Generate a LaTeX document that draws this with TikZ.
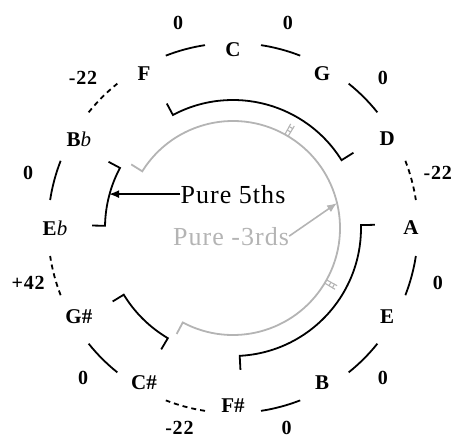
\documentclass[tikz,border=0pt]{standalone}
\usepackage{fontspec}
\setmainfont{Liberation Serif}
\newfontfamily\boldlab[LetterSpace=4]{Liberation Serif Bold}
\newfontfamily\widetext[LetterSpace=4]{Liberation Serif}
\usetikzlibrary{arrows.meta}
\definecolor{pgray}{RGB}{180,180,180}
\begin{document}
\begin{tikzpicture}[x=1pt,y=-1pt,
  note/.style={font=\bfseries\fontsize{21}{21}\selectfont, inner sep=0pt},
  lab/.style={font=\boldlab\fontsize{20}{20}\selectfont, inner sep=0pt},
  outerarc/.style={line width=1.8pt, black},
  dasharc/.style={line width=1.8pt, black, dash pattern=on 5pt off 4pt},
  fifth/.style={line width=1.8pt, black},
  third/.style={line width=1.8pt, pgray},
  rung/.style={line width=1.1pt, pgray},
  bigtext/.style={font=\widetext\fontsize{26}{26}\selectfont, inner sep=0pt, anchor=base}
]
\useasboundingbox (0,0) rectangle (458,442);
\begin{scope}[shift={(233,228)}]
  % notes around the circle (angle measured clockwise from top)
  \node[note] (nC)  at (-90:178)  {C};
  \node[note] (nG)  at (-60:178)  {G};
  \node[note] (nD)  at (-30:178)  {D};
  \node[note] (nA)  at (0:178)    {A};
  \node[note] (nE)  at (30:178)   {E};
  \node[note] (nB)  at (60:178)   {B};
  \node[note] (nFs) at (90:178)   {F\#};
  \node[note] (nCs) at (120:178)  {C\#};
  \node[note] (nGs) at (150:178)  {G\#};
  \node[note] (nEb) at (180:178)  {E\textnormal{\itshape b}};
  \node[note] (nBb) at (210:178)  {B\textnormal{\itshape b}};
  \node[note] (nF)  at (240:178)  {F};
  % outer arcs between notes
  \foreach \m/\s in {-105/outerarc,-75/outerarc,-45/outerarc,-15/dasharc,15/outerarc,45/outerarc,
                     75/outerarc,105/dasharc,135/outerarc,165/dasharc,195/outerarc,225/dasharc}{
    \draw[\s] ({\m-6.3}:185) arc[start angle={\m-6.3}, end angle={\m+6.3}, radius=185];
  }
  % deviation labels
  \node[lab] (lFC)  at (-105:212) {0};
  \node[lab] (lCG)  at (-75:212)  {0};
  \node[lab] (lGD)  at (-45:212)  {0};
  \node[lab] (lDA)  at (-15:212)  {-22};
  \node[lab] (lAE)  at (15:212)   {0};
  \node[lab] (lEB)  at (45:212)   {0};
  \node[lab] (lBF)  at (75:207)   {0};
  \node[lab] (lFC2) at (105:207)  {-22};
  \node[lab] (lCG2) at (135:212)  {0};
  \node[lab] (lGE)  at (165:212)  {+42};
  \node[lab] (lEB2) at (195:212)  {0};
  \node[lab] (lBF2) at (225:212)  {-22};
  % pure fifths brackets
  \draw[fifth] (-118:141) -- (-118:128) arc[start angle=-118, end angle=-32, radius=128] -- (-32:142);
  \draw[fifth] (-1.3:142) -- (-1.3:128) arc[start angle=-1.3, end angle=87, radius=128] -- (87:142);
  \draw[fifth] (120.6:141) -- (120.6:128) arc[start angle=120.6, end angle=148.6, radius=128] -- (148.6:141);
  \draw[fifth] (181:141) -- (181:128) arc[start angle=181, end angle=208, radius=128] -- (208:141);
  \coordinate (b5) at (194.5:128);
  % pure thirds arc
  \draw[third] (212:120) -- (212:107) arc[start angle=212, end angle=478, radius=107] -- (478:120);
  \coordinate (g3) at (-13.5:107);
  \foreach \t in {-60,30}{
    \draw[rung] ({\t-1}:107) -- ({\t-1}:119);
    \draw[rung] ({\t+1}:107) -- ({\t+1}:119);
    \draw[rung] ({\t-1.2}:112) -- ({\t+1.2}:112);
    \draw[rung] ({\t-1.2}:116) -- ({\t+1.2}:116);
  }
\end{scope}
\node[bigtext] (t5) at (233,203) {Pure 5ths};
\node[bigtext, text=pgray] (t3) at (231,245) {Pure -3rds};
\draw[line width=1.6pt, -{Latex[length=10pt,width=8pt]}] (t5.west) -- (t5.west -| b5);
\draw[line width=1.6pt, pgray, -{Latex[length=10pt,width=8pt]}] (t3.east) -- (g3);
\end{tikzpicture}
\end{document}
